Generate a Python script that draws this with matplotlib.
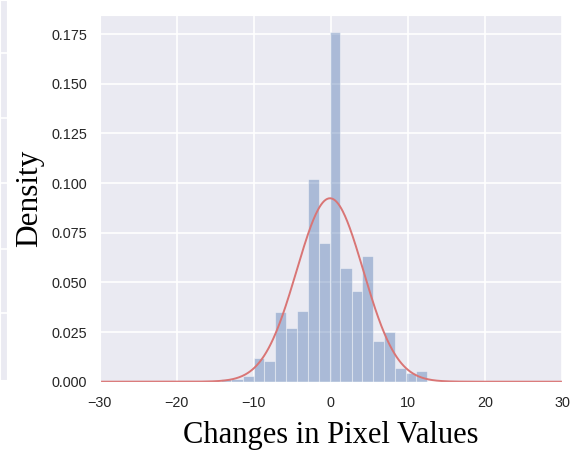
import matplotlib
matplotlib.use('Agg')
import matplotlib.pyplot as plt
import seaborn as sns
import numpy as np

# histogram (density per bin)
bin_edges = [-14.3, -12.9, -11.4, -10.0, -8.6, -7.2, -5.8, -4.4, -3.0, -1.55,
             -0.15, 1.25, 2.7, 4.1, 5.5, 6.9, 8.3, 9.7, 11.1, 12.5]
densities = [0.0015, 0.0015, 0.003, 0.0118, 0.0104, 0.0349, 0.027, 0.0354, 0.1019,
             0.070, 0.176, 0.057, 0.0455, 0.0633, 0.0203, 0.0249, 0.0067, 0.0045, 0.0054]

# fitted normal curve
fit_mean = -0.1
fit_std = 4.32

x_ticks = [-30, -20, -10, 0, 10, 20, 30]
y_ticks = [0.000, 0.025, 0.050, 0.075, 0.100, 0.125, 0.150, 0.175]

sns.set_style('darkgrid')
plt.rcParams['font.family'] = ['Liberation Sans', 'DejaVu Sans']

fig = plt.figure(figsize=(5.71, 4.51), dpi=100)

# edge of the neighbouring panel, cut off at the left
side = fig.add_axes([0.0, 1 - 380 / 451, 7 / 571, 380 / 451])
side.set_xlim(0, 1)
side.set_ylim(380, 0)
side.set_xticks([])
side.set_yticks([53, 118, 183, 249, 313])
side.tick_params(labelleft=False, length=0)
side.grid(True, color='white', linewidth=1.2)

ax = fig.add_axes([99.5 / 571, 1 - 381.7 / 451, (562 - 99.5) / 571, (381.7 - 15) / 451])

ax.hist(bin_edges[:-1], bins=bin_edges, weights=densities,
        color='#4c72b0', alpha=0.4, edgecolor='white', linewidth=0.8)

xs = np.linspace(-30, 30, 600)
pdf = np.exp(-0.5 * ((xs - fit_mean) / fit_std) ** 2) / (fit_std * np.sqrt(2 * np.pi))
ax.plot(xs, pdf, color='#d97575', linewidth=1.4)

ax.set_xlim(-30, 30)
ax.set_ylim(0, 0.1846)
ax.set_xticks(x_ticks)
ax.set_yticks(y_ticks)
ax.set_yticklabels([f'{v:.3f}' for v in y_ticks])
ax.tick_params(axis='both', labelsize=10.4, colors='#262626', length=0)
ax.tick_params(axis='y', pad=9)
ax.tick_params(axis='x', pad=10)
ax.grid(True, color='white', linewidth=1.2)

ax.set_xlabel('Changes in Pixel Values', family='Liberation Serif', fontsize=22,
              color='black', labelpad=8)
ax.set_ylabel('Density', family='Liberation Serif', fontsize=22.5,
              color='black', labelpad=5)

fig.savefig('out.png', dpi=100)
